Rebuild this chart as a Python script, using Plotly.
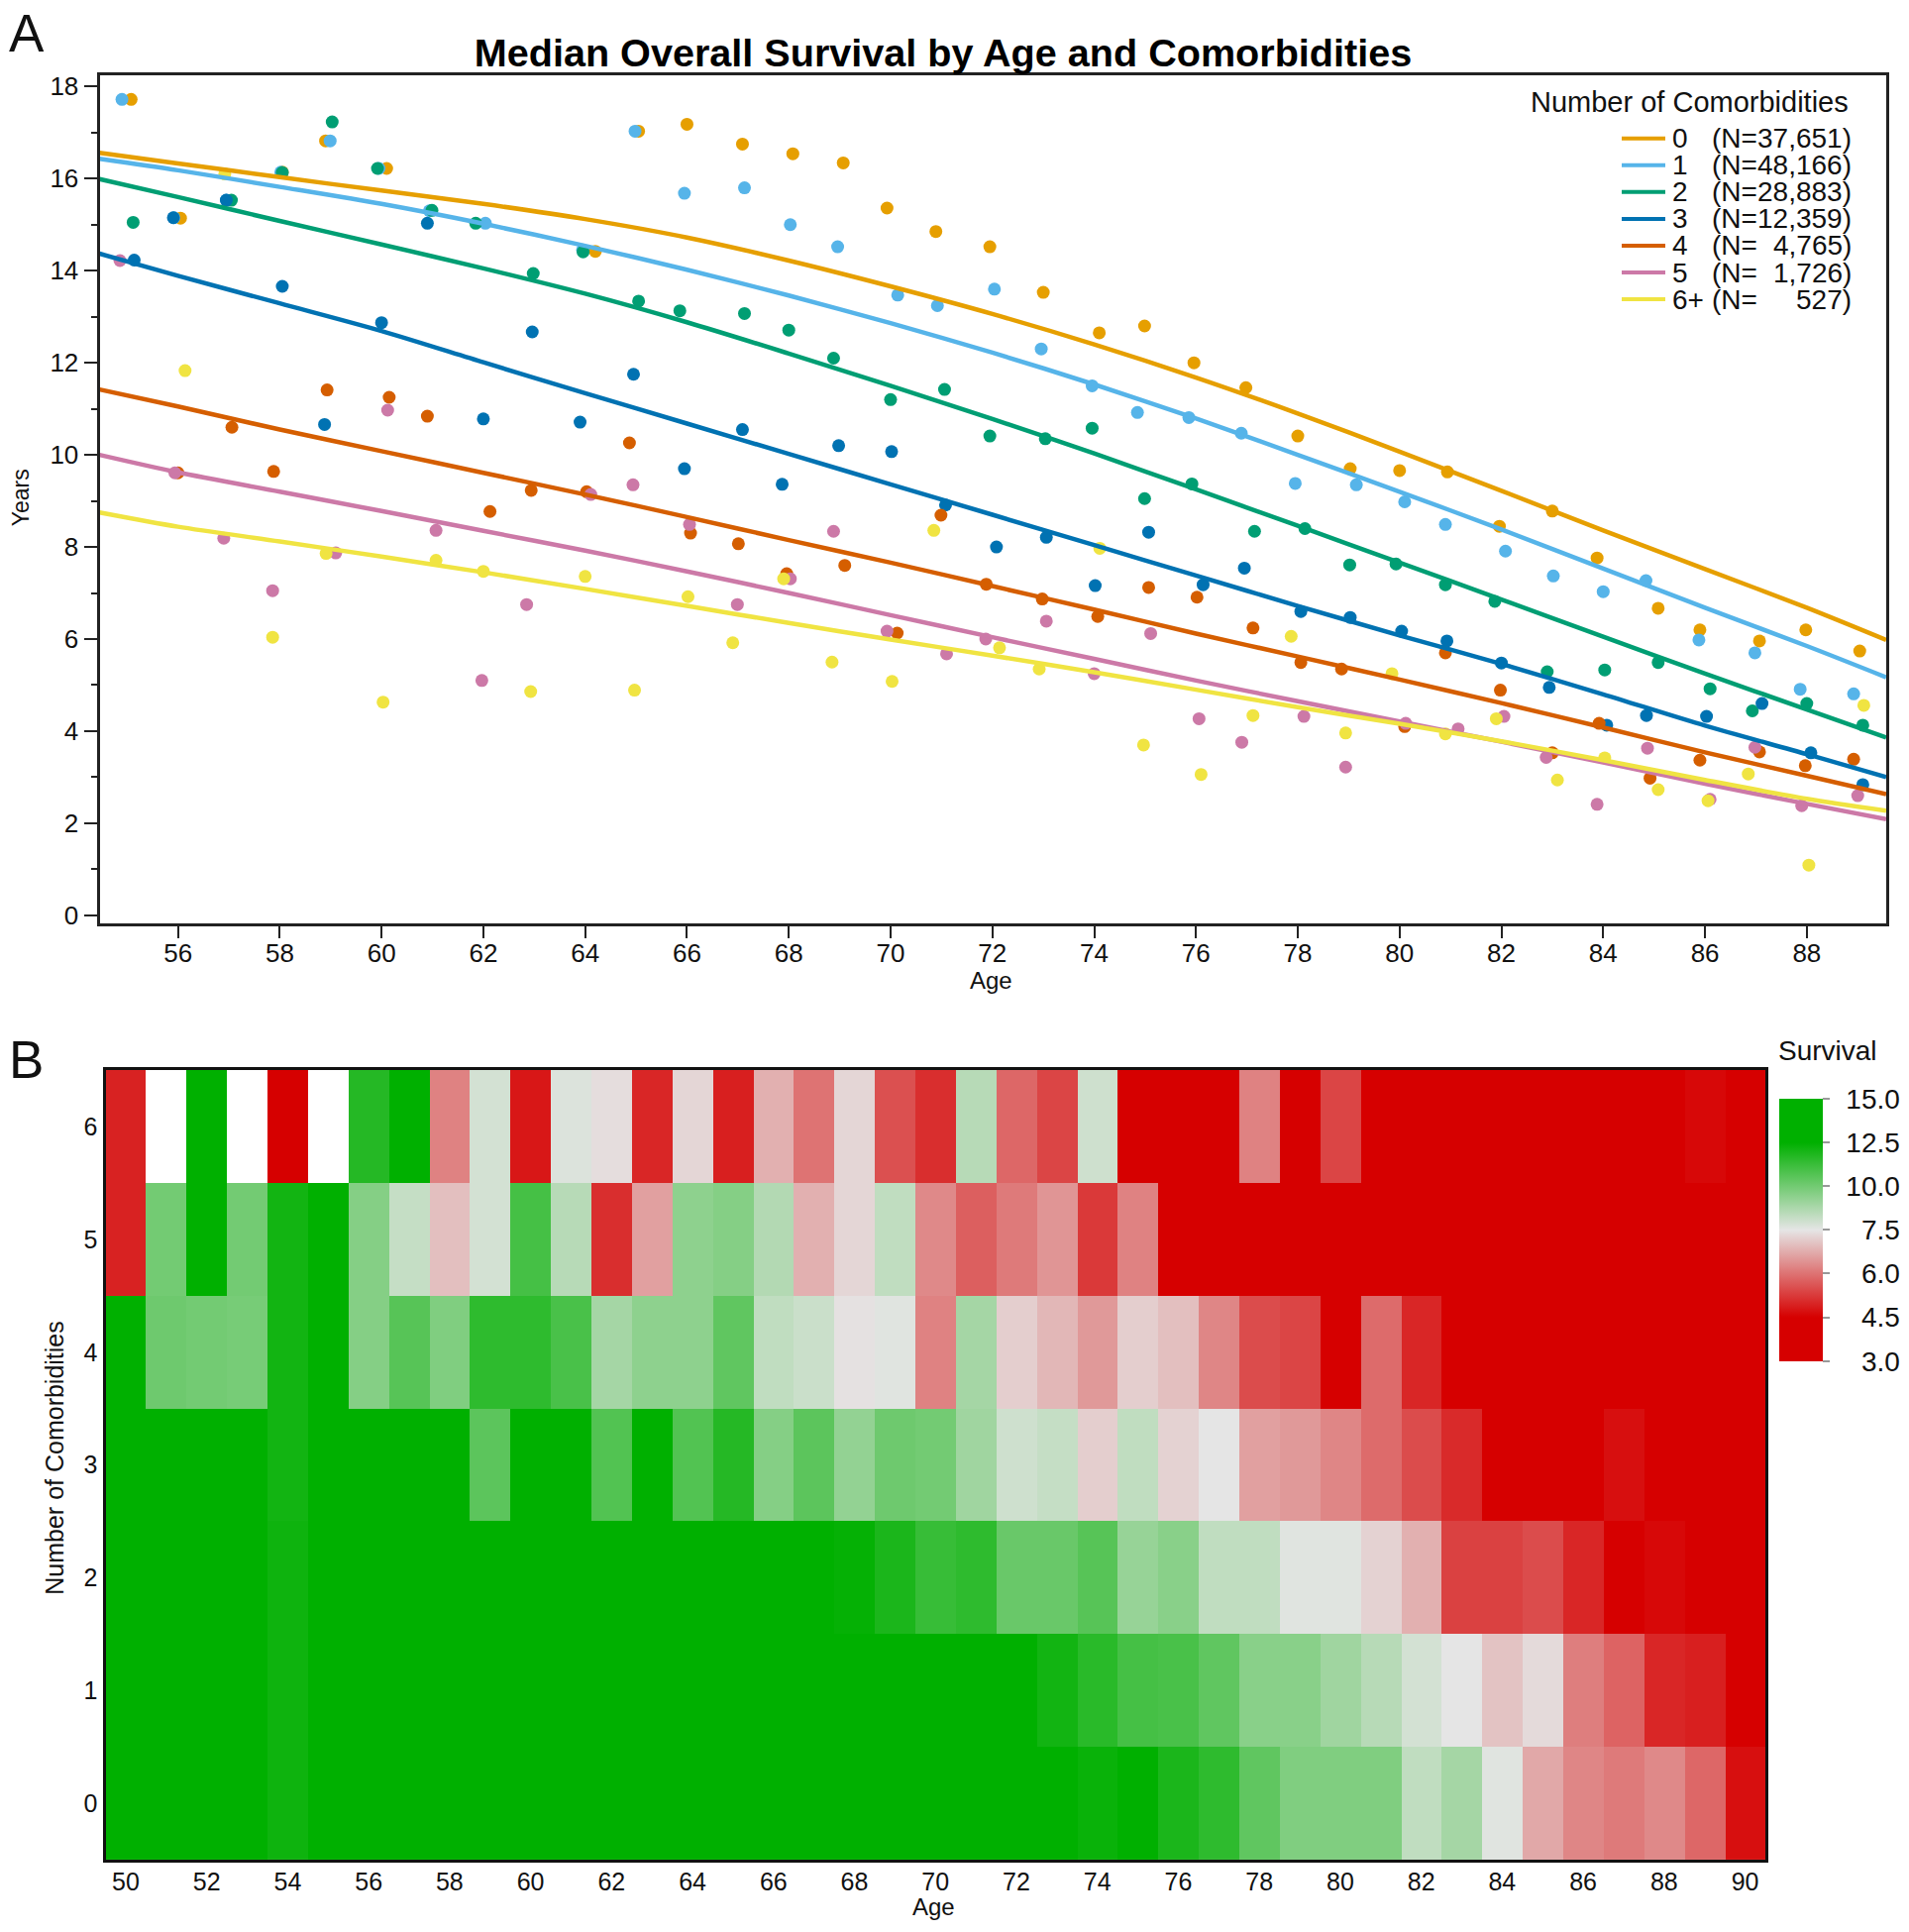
import numpy as np
import plotly.graph_objects as go

W, H = 1927, 1950
PAGE_MARGIN = 8  # the page body keeps its default margin
FONT = "Liberation Sans"
INK = "#222222"

COLORS = ["#E69F00", "#56B4E9", "#009E73", "#0072B2", "#D55E00", "#CC79A7", "#F0E442"]
LEGEND_LABELS = ["0", "1", "2", "3", "4", "5", "6+"]
LEGEND_N = ["37,651", "48,166", "28,883", "12,359", "4,765", "1,726", "527"]

# scatter points
AGE_0 = [55.08, 56.05, 58.05, 58.9, 60.1, 64.2, 65.05, 66, 67.09, 68.08, 69.07, 69.93, 70.89, 71.95, 73, 74.1, 74.99, 75.96, 76.98, 78, 79.03, 80, 80.94, 81.96, 83, 83.88, 85.08, 85.9, 87.07, 87.98, 89.04]
VAL_0 = [17.72, 15.14, 16.14, 16.82, 16.22, 14.42, 17.03, 17.18, 16.75, 16.54, 16.34, 15.36, 14.85, 14.52, 13.53, 12.65, 12.8, 12.0, 11.46, 10.41, 9.7, 9.66, 9.63, 8.45, 8.78, 7.76, 6.67, 6.2, 5.96, 6.2, 5.74]
AGE_1 = [54.9, 55.92, 56.95, 58.02, 58.99, 59.95, 60.94, 62.04, 63.95, 64.98, 65.95, 67.13, 68.03, 68.96, 70.14, 70.92, 72.04, 72.96, 73.96, 74.85, 75.86, 76.89, 77.95, 79.15, 80.1, 80.9, 82.08, 83.02, 84, 84.84, 85.88, 86.98, 87.87, 88.92]
VAL_1 = [17.72, 15.15, 15.53, 16.14, 16.82, 16.22, 15.3, 15.03, 14.45, 17.03, 15.68, 15.8, 15.0, 14.52, 13.47, 13.24, 13.6, 12.3, 11.5, 10.92, 10.81, 10.47, 9.38, 9.35, 8.98, 8.49, 7.91, 7.37, 7.03, 7.27, 5.98, 5.7, 4.91, 4.81]
AGE_2 = [55.12, 57.05, 58.05, 59.03, 59.92, 60.99, 61.85, 62.98, 63.96, 65.05, 65.86, 67.13, 68, 68.88, 70, 71.06, 71.95, 73.04, 73.96, 74.99, 75.92, 77.15, 78.14, 79.02, 79.93, 80.9, 81.87, 82.9, 84.03, 85.08, 86.1, 86.93, 88, 89.1]
VAL_2 = [15.05, 15.53, 16.13, 17.23, 16.22, 15.31, 15.03, 13.94, 14.41, 13.34, 13.13, 13.07, 12.71, 12.1, 11.2, 11.42, 10.41, 10.35, 10.58, 9.05, 9.37, 8.34, 8.4, 7.61, 7.63, 7.18, 6.82, 5.29, 5.33, 5.49, 4.92, 4.44, 4.6, 4.13]
AGE_3 = [55.14, 55.91, 56.95, 58.05, 58.88, 60, 60.9, 62, 62.96, 63.9, 64.95, 65.95, 67.09, 67.87, 68.98, 70.02, 71.08, 72.08, 73.06, 74.02, 75.07, 76.14, 76.95, 78.06, 79.03, 80.04, 80.93, 82, 82.94, 84.07, 84.85, 86.03, 87.12, 88.08, 89.1]
VAL_3 = [14.23, 15.15, 15.53, 13.66, 10.66, 12.87, 15.03, 10.78, 12.67, 10.71, 11.75, 9.7, 10.55, 9.36, 10.2, 10.07, 8.91, 8.0, 8.21, 7.16, 8.32, 7.18, 7.54, 6.6, 6.47, 6.17, 5.96, 5.48, 4.95, 4.13, 4.34, 4.32, 4.6, 3.53, 2.84]
AGE_4 = [56, 57.06, 57.88, 58.93, 60.15, 60.9, 62.13, 62.94, 64.03, 64.87, 66.07, 67.01, 67.96, 69.1, 70.13, 70.99, 71.88, 72.98, 74.07, 75.07, 76.02, 77.12, 78.06, 78.86, 80.1, 80.9, 81.98, 83, 83.92, 84.92, 85.9, 87.07, 87.97, 88.92]
VAL_4 = [9.61, 10.6, 9.64, 11.41, 11.25, 10.84, 8.77, 9.23, 9.2, 10.26, 8.3, 8.07, 7.42, 7.6, 6.13, 8.69, 7.19, 6.87, 6.49, 7.12, 6.91, 6.24, 5.49, 5.35, 4.1, 5.7, 4.89, 3.53, 4.17, 2.98, 3.37, 3.55, 3.25, 3.39]
AGE_5 = [54.86, 55.94, 56.9, 57.86, 59.1, 60.12, 61.07, 61.97, 62.85, 64.11, 64.94, 66.05, 66.99, 68.03, 68.88, 69.93, 71.1, 71.87, 73.06, 74, 75.11, 76.06, 76.9, 78.12, 78.94, 80.12, 81.15, 82.05, 82.88, 83.88, 84.87, 86.1, 86.98, 87.9, 89]
VAL_5 = [14.22, 9.61, 8.19, 7.05, 7.87, 10.97, 8.36, 5.1, 6.75, 9.14, 9.35, 8.49, 6.75, 7.31, 8.34, 6.17, 5.68, 6.0, 6.39, 5.25, 6.12, 4.27, 3.76, 4.32, 3.22, 4.17, 4.05, 4.32, 3.43, 2.41, 3.63, 2.52, 3.65, 2.38, 2.6]
AGE_6 = [56.14, 56.92, 57.86, 58.91, 60.03, 61.07, 62, 62.93, 64, 64.97, 66.02, 66.9, 67.9, 68.85, 70.03, 70.85, 72.14, 72.92, 74.11, 74.97, 76.1, 77.12, 77.87, 78.94, 79.85, 80.9, 81.9, 83.1, 84.03, 85.08, 86.06, 86.85, 88.04, 89.12]
VAL_6 = [11.83, 16.1, 6.04, 7.86, 4.63, 7.71, 7.47, 4.86, 7.36, 4.89, 6.92, 5.92, 7.31, 5.5, 5.08, 8.36, 5.81, 5.35, 7.97, 3.7, 3.06, 4.34, 6.06, 3.96, 5.25, 3.94, 4.27, 2.94, 3.42, 2.73, 2.49, 3.07, 1.09, 4.56]

# fitted curves, read at these ages
FIT_AGES = [54.46, 56, 58, 60, 62, 64, 66, 68, 70, 72, 74, 76, 78, 80, 82, 84, 86, 88, 89.56]
FIT_0 = [16.56, 16.33, 16.03, 15.74, 15.45, 15.12, 14.72, 14.22, 13.66, 13.06, 12.40, 11.68, 10.90, 10.07, 9.22, 8.36, 7.52, 6.68, 5.98]
FIT_1 = [16.43, 16.18, 15.82, 15.45, 15.02, 14.54, 14.02, 13.46, 12.86, 12.22, 11.53, 10.79, 10.0, 9.2, 8.38, 7.53, 6.68, 5.85, 5.17]
FIT_2 = [15.99, 15.6, 15.08, 14.57, 14.05, 13.5, 12.88, 12.2, 11.5, 10.78, 10.03, 9.25, 8.46, 7.66, 6.86, 6.05, 5.25, 4.47, 3.86]
FIT_3 = [14.37, 13.89, 13.29, 12.69, 12.01, 11.34, 10.68, 10.02, 9.36, 8.7, 8.04, 7.38, 6.72, 6.08, 5.46, 4.8, 4.12, 3.5, 3.0]
FIT_4 = [11.42, 11.05, 10.55, 10.08, 9.61, 9.14, 8.65, 8.15, 7.66, 7.15, 6.64, 6.12, 5.62, 5.12, 4.61, 4.08, 3.54, 3.03, 2.63]
FIT_5 = [10.0, 9.62, 9.2, 8.78, 8.35, 7.92, 7.47, 7.0, 6.52, 6.04, 5.57, 5.1, 4.65, 4.21, 3.77, 3.32, 2.86, 2.42, 2.09]
FIT_6 = [8.75, 8.44, 8.12, 7.79, 7.45, 7.09, 6.72, 6.35, 5.99, 5.64, 5.28, 4.9, 4.52, 4.16, 3.78, 3.37, 2.94, 2.53, 2.27]

# heatmap, panel B: survival in years, one list per comorbidity count, ages 50-90
HEAT_AGES = list(range(50, 91))
HEAT_COUNTS = [0, 1, 2, 3, 4, 5, 6]
ROW_0 = [14, 14, 14, 14, 12.2, 14, 14, 14, 14, 14, 14, 14, 14, 14, 14, 14, 14, 14, 14, 14, 14, 14, 14, 13, 12.3, 14, 11.9, 11.5, 10.4, 9.7, 9.7, 9.7, 8.3, 8.9, 7.6, 6.7, 6.25, 6.1, 6.3, 5.85, 4.7]
ROW_1 = [14, 14, 14, 14, 12.2, 14, 14, 14, 14, 14, 14, 14, 14, 14, 14, 14, 14, 14, 14, 14, 14, 14, 13, 12.1, 11.6, 11.0, 10.9, 10.4, 9.5, 9.5, 9.0, 8.5, 7.9, 7.5, 7.05, 7.35, 6.15, 5.8, 5.0, 4.9, 4]
ROW_2 = [14, 14, 14, 14, 12.2, 14, 14, 14, 14, 14, 14, 14, 14, 14, 14, 14, 14, 14, 12.4, 11.9, 11.3, 11.5, 10.2, 10.2, 10.6, 9.2, 9.5, 8.3, 8.3, 7.6, 7.6, 7.25, 6.8, 5.35, 5.35, 5.5, 5.0, 4.2, 4.6, 4.5, 4]
ROW_3 = [13, 13, 13, 13, 12.1, 13, 13, 13, 13, 10.5, 13, 13, 10.7, 12.8, 10.7, 11.7, 9.6, 10.5, 9.3, 10.1, 10, 9.0, 8.0, 8.2, 7.2, 8.3, 7.25, 7.5, 6.6, 6.5, 6.25, 5.9, 5.5, 5.05, 4, 4, 4, 4.7, 4, 4, 4]
ROW_4 = [13, 10.1, 10, 9.9, 12.1, 13, 9.6, 10.6, 9.7, 11.5, 11.5, 10.9, 8.9, 9.4, 9.4, 10.4, 8.3, 8.1, 7.45, 7.6, 6.2, 8.9, 7.2, 6.9, 6.5, 7.2, 7.0, 6.25, 5.5, 5.4, 4.4, 5.9, 5.0, 4, 4, 4, 4, 4, 4, 4, 4]
ROW_5 = [4.95, 10, 14, 10, 12.1, 13, 9.6, 8.2, 7.0, 7.9, 11.0, 8.5, 5.1, 6.6, 9.4, 9.6, 8.6, 6.8, 7.3, 8.3, 6.3, 5.75, 6.1, 6.45, 5.25, 6.2, 4, 4, 4, 4, 4, 4, 4, 4, 4, 4, 4, 4, 4, 4, 4]
ROW_6 = [4.95, None, 14, None, 4, None, 11.7, 13, 6.2, 7.9, 4.8, 7.7, 7.4, 5.0, 7.3, 4.9, 6.8, 6.0, 7.3, 5.55, 5.1, 8.5, 5.85, 5.4, 8.0, 4, 4, 4, 6.2, 4.2, 5.4, 4, 4, 4, 4, 4, 4, 4, 4, 4.6, 4]

SCALE_TICKS = [3.0, 4.5, 6.0, 7.5, 10.0, 12.5, 15.0]
# thin spaces push the labels off the bar, the figure space lines up the short ones
SCALE_LABELS = ["\u2009\u2009\u20073.0", "\u2009\u2009\u20074.5", "\u2009\u2009\u20076.0", "\u2009\u2009\u20077.5",
                "\u2009\u200910.0", "\u2009\u200912.5", "\u2009\u200915.0"]


def px_x(x):
    return (x - PAGE_MARGIN) / W


def px_y(y):
    return 1 - (y - PAGE_MARGIN) / H


def label(text, x, y, size, xanchor="center", textangle=0, color="#111111"):
    return dict(
        text=text, x=px_x(x), y=px_y(y), xref="paper", yref="paper",
        xanchor=xanchor, yanchor="middle", showarrow=False, textangle=textangle,
        font=dict(family=FONT, size=size, color=color)
    )


def legend_items():
    annotations = [label("Number of Comorbidities", 1868, 99.5, 29, xanchor="right")]
    shapes = []
    for i, name in enumerate(LEGEND_LABELS):
        y = 136.5 + i * 27.2
        shapes.append(dict(
            type="line", xref="paper", yref="paper",
            x0=px_x(1637), x1=px_x(1681), y0=px_y(y), y1=px_y(y),
            line=dict(color=COLORS[i], width=4)
        ))
        annotations.append(label(name, 1686, y, 28, xanchor="left"))
        annotations.append(label("(N=", 1725.5, y, 28, xanchor="left"))
        annotations.append(label(LEGEND_N[i] + ")", 1871, y, 28, xanchor="right"))
    return annotations, shapes


fig = go.Figure()

points = [(AGE_0, VAL_0), (AGE_1, VAL_1), (AGE_2, VAL_2), (AGE_3, VAL_3),
          (AGE_4, VAL_4), (AGE_5, VAL_5), (AGE_6, VAL_6)]
fits = [FIT_0, FIT_1, FIT_2, FIT_3, FIT_4, FIT_5, FIT_6]

for i, (ages, vals) in enumerate(points):
    fig.add_trace(go.Scatter(
        x=ages, y=vals, mode="markers", showlegend=False, hoverinfo="none",
        marker=dict(size=13, color=COLORS[i], line=dict(width=0))
    ))
for i, fit in enumerate(fits):
    fig.add_trace(go.Scatter(
        x=FIT_AGES, y=fit, mode="lines", showlegend=False, hoverinfo="none",
        line=dict(color=COLORS[i], width=4.5, shape="spline", smoothing=0.8)
    ))

# the colour bar spaces its ticks evenly, so cells are placed by tick position
scale_pos = list(range(len(SCALE_TICKS)))
rows = [ROW_0, ROW_1, ROW_2, ROW_3, ROW_4, ROW_5, ROW_6]
heat = np.array(rows, dtype=float)
heat_pos = np.interp(heat, SCALE_TICKS, scale_pos)
heat_pos[np.isnan(heat)] = np.nan

fig.add_trace(go.Heatmap(
    x=HEAT_AGES, y=HEAT_COUNTS, z=heat_pos, xaxis="x2", yaxis="y2",
    zmin=0, zmax=6, hoverinfo="none",
    colorscale=[
        [0, "#D60000"], [1 / 6, "#D60000"], [3 / 6, "#E5E5E5"],
        [5 / 6, "#00B000"], [1, "#00B000"]
    ],
    colorbar=dict(
        x=px_x(1796), xanchor="left", xref="paper", xpad=0, ypad=0,
        y=px_y(1111), yanchor="top", yref="paper",
        thickness=44, thicknessmode="pixels", len=265, lenmode="pixels",
        tickmode="array", tickvals=scale_pos, ticktext=SCALE_LABELS,
        ticks="outside", ticklen=7, tickwidth=2, tickcolor="#999999",
        tickfont=dict(family=FONT, size=28, color="#111111"),
        outlinewidth=0
    )
))

annotations, shapes = legend_items()
annotations += [
    label("A", 27, 30, 53),
    label("B", 26, 1071, 53),
    label("Age", 1000, 991, 24),
    label("Years", 21, 501, 23, textangle=-90),
    label("Age", 942, 1931, 24),
    label("Number of Comorbidities", 55, 1476, 25, textangle=-90),
    label("Survival", 1793, 1062, 28, xanchor="left"),
]

fig.update_layout(
    width=W, height=H, margin=dict(l=0, r=0, t=0, b=0), autosize=False,
    paper_bgcolor="white", plot_bgcolor="white",
    font=dict(family=FONT, color="#111111"),
    title=dict(
        text="<b>Median Overall Survival by Age and Comorbidities</b>",
        x=px_x(952), y=px_y(53), xanchor="center", yanchor="middle",
        font=dict(family=FONT, size=39.6, color="#000000")
    ),
    annotations=annotations, shapes=shapes,
    xaxis=dict(
        domain=[px_x(100.5), px_x(1904)], range=[54.46, 89.56], anchor="y",
        tickmode="linear", tick0=56, dtick=2, ticks="outside", ticklen=12,
        tickwidth=2, tickcolor=INK, showgrid=False, zeroline=False,
        showline=True, linecolor=INK, linewidth=3, mirror=True,
        tickfont=dict(size=26), ticklabelstandoff=-7
    ),
    yaxis=dict(
        domain=[px_y(933), px_y(72.5)], range=[-0.17, 18.24], anchor="x",
        tickmode="linear", tick0=0, dtick=2, ticks="outside", ticklen=13,
        tickwidth=2, tickcolor=INK, showgrid=False, zeroline=False,
        showline=True, linecolor=INK, linewidth=3, mirror=True,
        tickfont=dict(size=26),
        minor=dict(tickmode="linear", tick0=1, dtick=2, ticks="outside",
                   ticklen=6, tickwidth=2, tickcolor=INK)
    ),
    xaxis2=dict(
        domain=[px_x(106.5), px_x(1782)], range=[49.5, 90.5], anchor="y2",
        tickmode="linear", tick0=50, dtick=2, ticks="", showgrid=False,
        zeroline=False, showline=True, linecolor="#111111", linewidth=3,
        mirror=True, tickfont=dict(size=25), ticklabelstandoff=-2
    ),
    yaxis2=dict(
        domain=[px_y(1884), px_y(1082)], range=[-0.5, 6.5], anchor="x2",
        tickmode="linear", tick0=0, dtick=1, ticks="", showgrid=False,
        zeroline=False, showline=True, linecolor="#111111", linewidth=3,
        mirror=True, tickfont=dict(size=25)
    ),
)

fig.write_html("out.html")
